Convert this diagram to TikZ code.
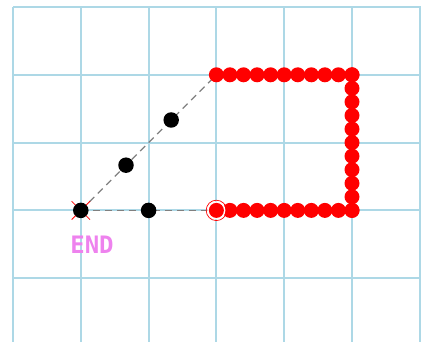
\documentclass[tikz,border=0pt]{standalone}
\usepackage{fontspec}
\usetikzlibrary{calc}
\newfontfamily\monof{DejaVu Sans Mono}
\definecolor{gridc}{RGB}{173,216,230}
\definecolor{endc}{RGB}{238,130,238}
\begin{document}
\begin{tikzpicture}[x=1pt,y=-1pt,
  gridline/.style={gridc,line width=2pt},
  guide/.style={gray,line width=1.3pt,dash pattern=on 7pt off 5pt},
  bdot/.style={circle,fill=black,inner sep=0pt,minimum size=15.5pt},
  rdot/.style={circle,fill=red,inner sep=0pt,minimum size=15pt},
  xmark/.style={red,line width=0.8pt},
  ring/.style={red,line width=0.7pt}]
\useasboundingbox (0,0) rectangle (421,342);
\foreach \i in {0,...,6} \draw[gridline] ({13+67.8*\i},7) -- ({13+67.8*\i},342);
\foreach \j in {0,...,4} \draw[gridline] (13,{7+67.8*\j}) -- (421,{7+67.8*\j});
\coordinate (pe) at (80.8,210.4);
\coordinate (ps) at (216.4,210.4);
\coordinate (pc1) at (216.4,74.8);
\coordinate (pc2) at (352,74.8);
\coordinate (pc3) at (352,210.4);
\draw[guide] (pe) -- (ps);
\draw[guide] (pe) -- (pc1);
% red path
\foreach \k in {0,...,10} {
  \node[rdot] (t\k) at ({216.4+13.56*\k},74.8) {};
  \node[rdot] (r\k) at (352,{74.8+13.56*\k}) {};
  \node[rdot] (b\k) at ({216.4+13.56*\k},210.4) {};
}
\fill[white] (ps) circle (9);
\fill[red] (ps) circle (7.5);
\draw[ring] (ps) circle (10.2);
% black dots
\node[bdot] (endpt) at (pe) {};
\node[bdot] (m1) at (148.6,210.4) {};
\node[bdot] (d1) at (126,165.2) {};
\node[bdot] (d2) at (171.2,120) {};
\foreach \a in {45,135,225,315}
  \draw[xmark] ($(pe)+(\a:7.5)$) -- ($(pe)+(\a:13)$);
\node[text=endc,font=\monof\bfseries\fontsize{24}{24}\selectfont,inner sep=0pt] (endlbl) at (92,244.5) {END};
\end{tikzpicture}
\end{document}
